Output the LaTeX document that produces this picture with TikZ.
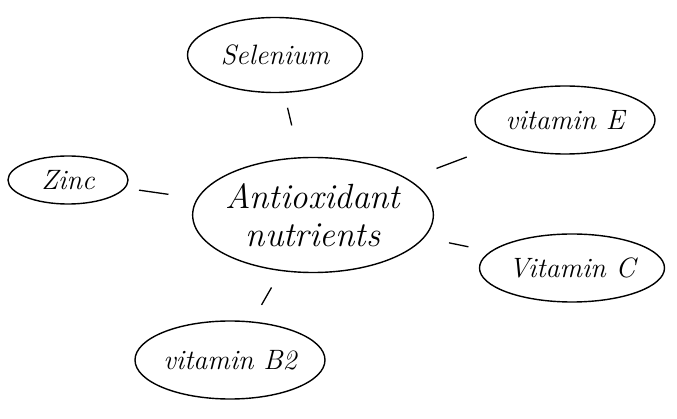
\documentclass[tikz,border=0pt]{standalone}
\usepackage{fontspec}
\usetikzlibrary{shapes.geometric,calc}
\begin{document}
\begin{tikzpicture}[x=1pt,y=-1pt,
  bubble/.style={draw,ellipse,line width=1.4pt,inner sep=-2pt,font=\itshape\fontsize{28}{30}\selectfont},
  link/.style={line width=1.3pt}]
\useasboundingbox (0,0) rectangle (677,419);
\node[bubble,minimum width=240,minimum height=115,align=center,font=\itshape\fontsize{35}{38}\selectfont] (c) at (313,215) {Antioxidant\\nutrients};
\node[bubble,minimum width=175,minimum height=75] (sel) at (275,55) {Selenium};
\node[bubble,minimum width=180,minimum height=68] (ve) at (565,120) {vitamin E};
\node[bubble,minimum width=120,minimum height=48] (zn) at (68,180) {Zinc};
\node[bubble,minimum width=185,minimum height=68] (vc) at (572,268) {Vitamin C};
\node[bubble,minimum width=190,minimum height=78] (vb) at (230,360) {vitamin B2};
\draw[link] ($(c)!0.56!(sel)$) -- ($(c)!0.67!(sel)$);
\draw[link] ($(c)!0.49!(ve)$) -- ($(c)!0.61!(ve)$);
\draw[link] ($(c)!0.59!(zn)$) -- ($(c)!0.71!(zn)$);
\draw[link] ($(c)!0.525!(vc)$) -- ($(c)!0.60!(vc)$);
\draw[link] ($(c)!0.50!(vb)$) -- ($(c)!0.62!(vb)$);
\end{tikzpicture}
\end{document}
